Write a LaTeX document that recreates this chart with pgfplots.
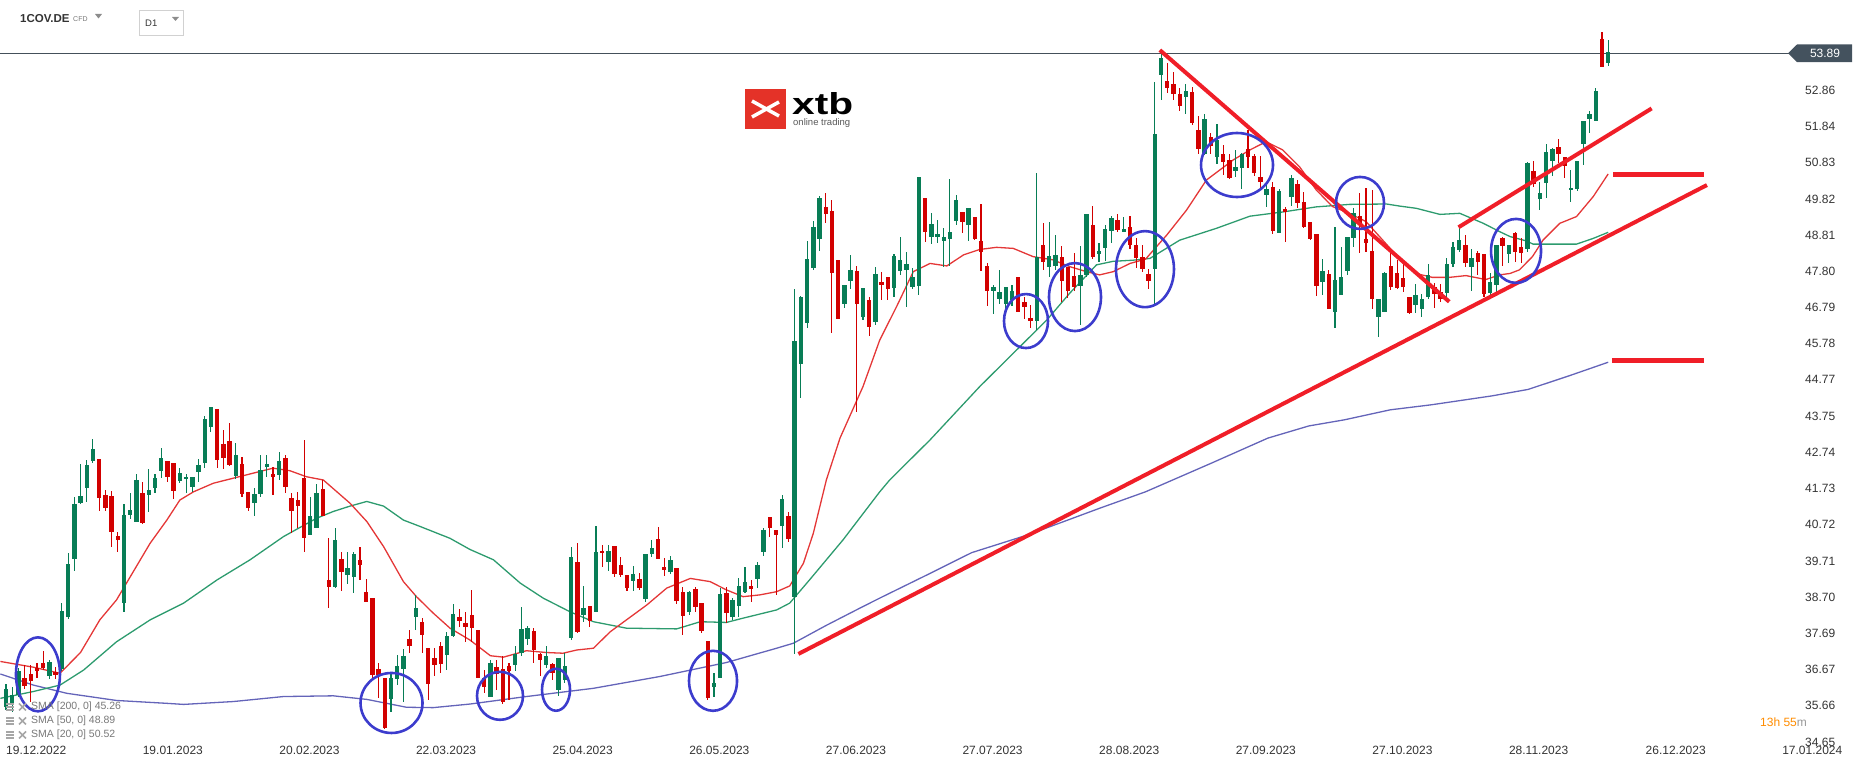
\documentclass[border=0pt]{standalone}
\usepackage{pgfplots}
\usepackage{pgfplotstable}
\pgfplotsset{compat=1.18}
\usepackage{fontspec}
\setmainfont{Liberation Sans}
\definecolor{cup}{RGB}{8,125,86}
\definecolor{cdn}{RGB}{210,0,0}
\definecolor{smaA}{RGB}{228,55,55}
\definecolor{smaB}{RGB}{45,155,110}
\definecolor{smaC}{RGB}{100,100,185}
\definecolor{trend}{RGB}{240,30,40}
\definecolor{circ}{RGB}{60,60,205}
\definecolor{pline}{RGB}{68,80,90}
\definecolor{tagc}{RGB}{68,82,94}
\definecolor{txt}{RGB}{51,51,51}
\definecolor{legc}{RGB}{120,120,120}
\definecolor{xtbred}{RGB}{228,50,40}

\pgfplotstableread{
i o h l c
0 35.64 36.27 35.55 36.12
1 35.68 36.20 35.50 35.96
2 35.96 36.71 35.92 36.64
3 36.43 36.80 36.12 36.22
4 36.55 36.80 35.78 36.36
5 36.71 36.85 36.43 36.64
6 36.85 37.19 36.66 36.73
7 36.50 36.94 36.41 36.88
8 36.60 36.74 36.41 36.52
9 36.68 38.54 36.62 38.31
10 38.15 39.92 38.08 39.62
11 39.76 41.49 39.44 41.30
12 41.34 42.42 41.30 41.52
13 41.74 42.53 41.36 42.39
14 42.51 43.11 42.44 42.83
15 42.55 42.55 41.11 41.46
16 41.55 41.69 41.09 41.20
17 41.52 41.66 40.11 40.53
18 40.41 40.53 39.97 40.28
19 38.54 41.30 38.29 40.99
20 40.99 41.60 40.87 41.13
21 40.81 42.13 40.81 41.97
22 41.60 41.90 40.74 40.76
23 41.55 42.27 41.08 41.69
24 41.74 42.14 41.60 42.02
25 42.23 42.85 42.02 42.58
26 42.51 42.51 41.92 42.06
27 42.44 42.44 41.43 41.67
28 41.95 42.30 41.88 42.16
29 42.00 42.14 41.60 42.06
30 41.78 42.04 41.64 42.04
31 42.18 42.55 41.90 42.39
32 42.45 43.76 42.30 43.66
33 43.46 44.00 43.32 44.00
34 43.94 43.94 42.30 42.53
35 42.98 43.37 42.27 42.58
36 43.07 43.55 42.36 42.39
37 42.08 42.99 41.99 42.67
38 42.42 42.60 41.50 41.58
39 41.64 41.64 41.11 41.18
40 41.32 41.74 40.96 41.57
41 41.58 42.67 41.49 42.25
42 42.32 42.67 42.06 42.42
43 42.13 42.32 41.55 42.06
44 42.11 42.76 41.97 42.51
45 42.58 42.67 41.60 41.78
46 41.46 41.60 40.48 41.09
47 41.41 41.64 40.62 41.24
48 42.02 43.09 39.97 40.34
49 40.43 41.50 40.43 40.95
50 40.64 41.86 40.62 41.62
51 41.72 41.97 40.95 40.97
52 39.18 40.34 38.39 38.97
53 38.97 40.62 38.94 40.30
54 39.75 39.97 38.88 39.41
55 39.32 39.97 39.07 39.50
56 39.27 39.97 38.82 39.90
57 39.74 40.11 39.18 39.60
58 38.85 39.20 38.57 38.57
59 38.66 38.66 36.38 36.52
60 36.68 36.85 35.87 36.52
61 36.45 36.45 35.00 35.03
62 35.84 36.57 35.50 36.45
63 36.40 37.08 36.24 36.77
64 36.68 37.24 35.78 37.05
65 37.53 37.78 37.15 37.33
66 38.13 38.76 37.78 38.40
67 37.99 38.11 37.13 37.64
68 37.27 37.27 35.81 36.27
69 36.99 37.27 36.48 36.80
70 37.34 37.45 36.57 36.83
71 37.08 37.73 36.66 37.61
72 37.61 38.51 37.59 38.22
73 38.13 38.36 37.87 38.04
74 37.97 38.29 37.45 37.87
75 38.20 38.90 37.45 37.83
76 37.78 37.78 36.43 36.43
77 36.43 36.66 36.01 36.20
78 35.92 36.94 35.92 36.85
79 36.74 36.94 36.11 36.55
80 36.68 37.04 35.71 35.78
81 36.78 36.85 35.83 36.62
82 36.80 37.34 36.62 37.11
83 37.13 38.43 37.04 37.81
84 37.52 37.90 37.36 37.83
85 37.75 37.83 36.87 37.22
86 37.10 37.15 36.50 36.94
87 36.80 37.34 36.71 37.04
88 36.82 36.87 36.38 36.57
89 36.11 36.99 35.94 36.99
90 36.39 37.13 36.29 36.78
91 37.55 40.11 37.50 39.81
92 39.67 40.22 37.69 37.73
93 38.20 39.01 38.01 38.39
94 38.45 38.45 37.86 38.04
95 38.29 40.69 38.29 39.97
96 39.99 40.15 39.53 39.92
97 39.69 40.15 39.44 39.99
98 40.13 40.13 39.27 39.35
99 39.60 39.81 39.27 39.32
100 39.32 39.32 38.88 38.95
101 39.16 39.57 38.88 39.34
102 39.20 39.36 38.90 38.95
103 38.64 39.90 38.57 39.90
104 39.90 40.30 39.81 40.06
105 40.31 40.65 39.76 39.76
106 39.53 39.78 39.29 39.46
107 39.41 39.85 39.34 39.74
108 39.50 39.50 38.51 38.60
109 38.83 38.97 37.64 38.17
110 38.29 38.88 38.20 38.83
111 38.92 38.97 38.29 38.43
112 38.53 38.53 37.69 37.76
113 37.46 37.46 35.81 35.87
114 36.18 36.57 35.92 36.31
115 36.43 38.94 36.43 38.79
116 38.82 38.97 37.97 38.26
117 38.14 38.66 38.06 38.62
118 38.45 39.22 38.15 39.01
119 38.85 39.53 38.81 39.13
120 39.01 39.18 38.55 38.92
121 39.20 39.69 38.95 39.60
122 39.97 40.62 39.85 40.56
123 40.93 40.93 40.37 40.62
124 40.58 40.58 38.76 40.43
125 40.69 41.55 40.06 41.43
126 40.95 41.07 40.25 40.32
127 38.71 47.31 37.11 45.84
128 45.21 47.11 44.25 47.09
129 46.35 48.66 46.21 48.15
130 47.88 49.21 47.84 49.05
131 48.70 49.90 48.38 49.86
132 49.61 50.00 49.14 49.40
133 49.49 49.79 46.09 47.76
134 48.12 48.12 46.47 46.47
135 46.89 47.42 46.77 47.42
136 47.54 48.26 47.30 47.84
137 47.81 47.95 43.88 46.89
138 46.51 47.33 46.44 47.33
139 47.00 47.09 45.98 46.25
140 46.39 47.91 46.30 47.72
141 47.51 47.79 47.00 47.42
142 47.65 47.65 47.00 47.31
143 47.33 48.28 47.09 48.23
144 47.81 48.75 47.70 48.12
145 47.84 48.35 46.81 48.01
146 47.37 47.88 47.30 47.65
147 47.39 50.43 47.14 50.43
148 49.84 49.84 48.63 48.91
149 48.77 49.44 48.56 49.12
150 48.77 49.23 48.58 48.84
151 48.66 49.00 47.91 48.75
152 48.70 50.37 47.95 48.91
153 49.21 49.93 49.09 49.79
154 49.45 49.45 48.88 49.19
155 49.08 49.58 48.66 49.58
156 49.31 49.31 48.68 48.70
157 48.65 49.68 47.82 48.35
158 47.95 48.04 46.83 47.26
159 47.26 47.42 46.61 47.37
160 47.02 47.84 46.89 47.21
161 46.89 47.37 46.74 47.35
162 47.00 47.42 46.82 47.25
163 47.63 47.63 46.65 46.67
164 46.93 47.09 46.46 46.79
165 46.49 46.86 46.21 46.42
166 46.42 50.54 46.16 48.21
167 48.54 49.14 47.84 48.07
168 47.93 49.19 47.65 48.23
169 47.95 48.82 47.84 48.26
170 48.19 48.51 46.93 47.54
171 47.91 47.91 47.05 47.26
172 47.67 48.30 47.26 47.35
173 47.39 48.51 46.30 47.70
174 47.70 49.40 47.65 49.40
175 49.09 49.62 48.14 48.21
176 48.28 48.60 48.07 48.38
177 48.44 49.09 48.10 48.98
178 48.93 49.35 48.60 49.30
179 49.23 49.40 48.91 48.95
180 48.91 49.33 48.91 48.98
181 49.03 49.35 48.42 48.54
182 48.54 48.72 47.88 48.16
183 48.19 48.54 47.79 47.86
184 47.73 47.86 47.30 47.54
185 47.86 53.10 46.90 51.63
186 53.28 53.93 52.58 53.75
187 53.11 53.61 52.79 52.93
188 53.02 53.38 52.60 52.75
189 52.74 52.91 52.29 52.43
190 52.68 53.02 52.19 52.84
191 52.82 52.96 51.89 51.95
192 51.76 52.14 51.09 51.23
193 51.09 52.19 51.05 52.05
194 51.54 51.67 51.09 51.30
195 51.00 51.91 50.80 51.47
196 51.07 51.33 50.49 50.86
197 50.91 51.09 50.37 50.42
198 50.61 51.19 50.44 50.72
199 50.70 51.11 50.09 51.09
200 51.21 51.76 50.70 51.00
201 51.02 51.09 50.46 50.55
202 50.44 51.02 50.14 50.30
203 49.93 50.21 49.61 50.09
204 50.16 50.30 48.84 48.93
205 48.88 50.09 48.86 50.05
206 49.53 49.61 48.63 49.46
207 49.88 50.49 49.62 50.40
208 50.24 50.35 49.56 49.72
209 49.74 50.02 49.00 49.05
210 49.19 49.19 48.67 48.69
211 48.84 48.84 47.11 47.39
212 47.51 48.14 47.14 47.81
213 47.72 47.84 46.74 46.76
214 46.67 49.03 46.21 47.57
215 47.14 48.47 47.14 47.65
216 47.82 48.75 47.70 48.75
217 48.72 49.56 48.49 49.42
218 49.35 50.00 48.32 49.14
219 48.69 50.12 48.35 48.60
220 48.37 50.07 46.76 47.04
221 46.51 47.04 45.97 47.04
222 46.67 47.79 46.67 47.76
223 47.95 48.39 47.28 47.37
224 47.76 48.11 47.30 47.32
225 47.62 48.07 47.23 47.37
226 47.09 47.09 46.60 46.63
227 46.86 47.44 46.63 47.14
228 46.74 47.16 46.53 47.02
229 47.07 48.00 47.04 47.70
230 47.35 47.48 46.77 47.18
231 47.23 47.44 46.95 47.04
232 47.20 48.16 46.95 48.00
233 48.00 48.63 47.93 48.49
234 48.39 49.09 48.35 48.67
235 48.53 48.81 47.93 48.04
236 47.93 48.42 47.26 48.16
237 48.30 48.37 47.70 48.07
238 48.28 48.28 47.09 47.17
239 47.18 47.74 47.14 47.51
240 47.42 48.53 47.18 48.53
241 48.72 48.77 47.95 48.51
242 48.28 48.53 48.04 48.53
243 48.88 48.91 48.07 48.35
244 48.49 48.72 48.04 48.32
245 48.41 50.86 48.35 50.83
246 50.61 50.89 50.16 50.24
247 49.81 50.30 49.51 50.00
248 50.26 51.36 49.84 51.14
249 50.89 51.25 50.46 51.22
250 51.26 51.50 50.82 51.08
251 51.00 51.00 50.40 50.75
252 50.07 50.63 49.75 50.12
253 50.09 50.88 50.05 50.88
254 51.37 52.00 50.77 52.00
255 52.07 52.29 51.67 52.19
256 52.01 52.91 52.01 52.84
257 54.29 54.48 53.52 53.52
258 53.63 54.26 53.54 53.92
}\candles

\begin{document}
\begin{tikzpicture}
\begin{axis}[
  at={(0pt,25pt)}, anchor=south west,
  scale only axis, width=1790pt, height=742pt,
  xmin=-0.966, xmax=287.28, ymin=34.65, ymax=55.38,
  axis line style={draw=none}, major tick length=0pt,
  xtick={0,22,44,66,88,110,132,154,176,198,220,242,264,286},
  xticklabels={19.12.2022,19.01.2023,20.02.2023,22.03.2023,25.04.2023,26.05.2023,27.06.2023,27.07.2023,28.08.2023,27.09.2023,27.10.2023,28.11.2023,26.12.2023,17.01.2024},
  xticklabel style={anchor=north west, inner sep=0pt, yshift=-4pt, font=\fontsize{12}{14}\selectfont, text=txt},
  ytick={34.65,35.66,36.67,37.69,38.70,39.71,40.72,41.73,42.74,43.75,44.77,45.78,46.79,47.80,48.81,49.82,50.83,51.84,52.86},
  yticklabels={34.65,35.66,36.67,37.69,38.70,39.71,40.72,41.73,42.74,43.75,44.77,45.78,46.79,47.80,48.81,49.82,50.83,51.84,52.86},
  ytick pos=right,
  yticklabel style={anchor=west, inner sep=0pt, xshift=15pt, font=\fontsize{12}{14}\selectfont, text=txt},
  clip=false,
  candle/.style={draw=none, no markers, forget plot,
    error bars/y dir=both, error bars/y explicit, error bars/error mark=none},
]
% price line
\addplot[pline, line width=1.3pt, forget plot] coordinates {(-0.966,53.89) (287.28,53.89)};
% SMA 200
\addplot[smaC, line width=1.3pt] coordinates {
(-0.9,36.55) (4.4,36.24) (9.8,36.01) (17.8,35.81) (25.9,35.73) (28.6,35.70) (36.6,35.78) (44.7,35.92) (52.7,35.94) (58.1,35.84) (64.5,35.62) (68.8,35.61) (74.7,35.71) (83.8,35.92) (94.6,36.15) (105.3,36.48) (116.0,36.87) (124.1,37.27) (126.8,37.41) (132.0,37.90) (137.5,38.39) (140.7,38.67) (148.8,39.36) (155.5,39.94) (164.6,40.44) (176.1,41.18) (183.5,41.64) (194.1,42.44) (203.2,43.14) (209.8,43.48) (215.5,43.65) (222.9,43.93) (229.5,44.07) (239.3,44.32) (245.1,44.50) (251.7,44.88) (258,45.26)};
% SMA 50
\addplot[smaB, line width=1.3pt] coordinates {
(-0.9,35.87) (4.4,36.06) (8.7,36.24) (12.5,36.66) (17.8,37.45) (23.2,38.06) (28.6,38.53) (34.0,39.18) (39.3,39.74) (44.7,40.39) (50.0,40.90) (52.7,41.09) (55.4,41.24) (58.1,41.37) (60.8,41.24) (64.0,40.85) (66.7,40.67) (71.5,40.34) (74.7,40.03) (78.5,39.74) (82.8,39.09) (86.5,38.67) (90.8,38.29) (94.6,38.01) (99.9,37.83) (108.0,37.81) (111.8,38.01) (116.0,37.99) (118.7,38.11) (124.1,38.34) (126.2,38.53) (129.4,39.18) (134.8,40.30) (140.7,41.64) (142.3,41.97) (148.8,43.09) (156.8,44.58) (162.2,45.51) (167.6,46.44) (171.3,47.19) (175.6,47.98) (178.3,48.08) (181.5,48.11) (184.2,48.16) (189.0,48.67) (194.9,49.00) (200.3,49.34) (205.7,49.46) (211.0,49.60) (216.4,49.67) (222.3,49.68) (224.5,49.62) (227.1,49.56) (230.9,49.39) (234.1,49.42) (237.9,49.14) (240.5,48.91) (242.2,48.77) (244.8,48.65) (245.9,48.56) (252.9,48.56) (255.6,48.72) (258,48.89)};
% SMA 20
\addplot[smaA, line width=1.3pt] coordinates {
(-0.9,36.90) (4.4,36.74) (8.7,36.57) (12.0,37.15) (15.1,38.06) (17.8,38.62) (20.5,39.41) (23.2,40.20) (25.9,40.85) (28.0,41.41) (30.2,41.64) (33.4,41.88) (36.6,42.02) (39.8,42.16) (43.0,42.30) (45.7,42.23) (48.4,42.06) (51.1,41.97) (55.4,41.32) (58.1,40.81) (60.8,40.11) (64.0,39.13) (66.1,38.71) (68.8,38.25) (71.5,37.83) (74.7,37.50) (78.0,37.06) (80.1,37.02) (83.8,37.20) (87.0,37.15) (89.7,37.13) (91.9,37.22) (94.6,37.27) (97.3,37.73) (99.9,38.06) (103.2,38.48) (106.4,38.95) (110.2,39.22) (113.4,39.13) (116.0,38.90) (118.7,38.71) (121.4,38.76) (124.1,38.85) (126.2,39.01) (128.4,39.64) (130.0,40.48) (132.1,41.97) (134.3,43.14) (138.0,44.58) (140.7,45.88) (143.4,46.81) (146.1,47.79) (148.8,48.02) (151.5,47.95) (154.2,48.26) (156.8,48.41) (159.5,48.47) (162.2,48.44) (165.4,48.21) (168.6,48.12) (171.3,47.93) (174.0,47.79) (176.1,47.70) (178.3,47.79) (181.0,48.02) (183.5,48.14) (186.9,48.81) (190.1,49.51) (193.3,50.35) (197.6,50.91) (200.3,51.19) (202.9,51.42) (205.6,51.19) (208.3,50.72) (211.0,50.07) (213.6,49.61) (216.3,49.42) (219.0,49.19) (221.7,48.67) (224.4,48.15) (227.0,47.74) (229.7,47.63) (232.4,47.63) (235.1,47.68) (238.3,47.57) (240.5,47.70) (242.2,47.74) (243.7,47.84) (245.8,48.21) (247.5,48.67) (250.2,49.14) (252.9,49.33) (255.6,49.89) (258,50.52)};
% candles: wicks and bodies
\addplot[candle, restrict expr to domain={\thisrow{c}-\thisrow{o}}{0:100},
  error bars/error bar style={draw=cup, line width=1.1pt}]
  table[x=i, y expr={(\thisrow{h}+\thisrow{l})/2}, y error expr={(\thisrow{h}-\thisrow{l})/2}] {\candles};
\addplot[candle, restrict expr to domain={\thisrow{c}-\thisrow{o}}{0:100},
  error bars/error bar style={draw=cup, line width=4.4pt}]
  table[x=i, y expr={(\thisrow{o}+\thisrow{c})/2}, y error expr={abs(\thisrow{c}-\thisrow{o})/2}] {\candles};
\addplot[candle, restrict expr to domain={\thisrow{c}-\thisrow{o}}{-100:-0.0001},
  error bars/error bar style={draw=cdn, line width=1.1pt}]
  table[x=i, y expr={(\thisrow{h}+\thisrow{l})/2}, y error expr={(\thisrow{h}-\thisrow{l})/2}] {\candles};
\addplot[candle, restrict expr to domain={\thisrow{c}-\thisrow{o}}{-100:-0.0001},
  error bars/error bar style={draw=cdn, line width=4.4pt}]
  table[x=i, y expr={(\thisrow{o}+\thisrow{c})/2}, y error expr={abs(\thisrow{c}-\thisrow{o})/2}] {\candles};
% trend lines
\addplot[trend, line width=4pt] coordinates {(127.6,37.11) (273.9,50.21)};
\addplot[trend, line width=4pt] coordinates {(185.8,53.98) (232.4,46.95)};
\addplot[trend, line width=4pt] coordinates {(233.9,49.03) (265.0,52.35)};
\addplot[trend, line width=4.5pt] coordinates {(258.8,50.51) (273.4,50.51)};
\addplot[trend, line width=4.5pt] coordinates {(258.6,45.31) (273.4,45.31)};
% circles
\draw[circ, line width=2.6pt] (axis cs:5.15,36.54) ellipse [x radius=22pt, y radius=37pt];
\draw[circ, line width=2.6pt] (axis cs:62.08,35.74) ellipse [x radius=31pt, y radius=30pt];
\draw[circ, line width=2.6pt] (axis cs:79.55,35.94) ellipse [x radius=23pt, y radius=24pt];
\draw[circ, line width=2.6pt] (axis cs:88.57,36.11) ellipse [x radius=14pt, y radius=21pt];
\draw[circ, line width=2.6pt] (axis cs:113.85,36.36) ellipse [x radius=24pt, y radius=30pt];
\draw[circ, line width=2.6pt] (axis cs:164.25,46.41) ellipse [x radius=22pt, y radius=27pt];
\draw[circ, line width=2.6pt] (axis cs:172.14,47.08) ellipse [x radius=26pt, y radius=34pt];
\draw[circ, line width=2.6pt] (axis cs:183.41,47.86) ellipse [x radius=29pt, y radius=38pt];
\draw[circ, line width=2.6pt] (axis cs:198.23,50.77) ellipse [x radius=36pt, y radius=32pt];
\draw[circ, line width=2.6pt] (axis cs:218.04,49.71) ellipse [x radius=24pt, y radius=26pt];
\draw[circ, line width=2.6pt] (axis cs:243.16,48.37) ellipse [x radius=25pt, y radius=32pt];
\end{axis}
% price tag
\fill[tagc] (1788pt,713.7pt) -- (1797pt,722.5pt) -- (1852pt,722.5pt) -- (1852pt,704.9pt) -- (1797pt,704.9pt) -- cycle;
\node[text=white, font=\fontsize{12}{14}\selectfont, inner sep=0pt] at (1825pt,713.7pt) {53.89};
% header
\node[anchor=west, inner sep=0pt, text=txt, font=\fontsize{11.5}{14}\selectfont\bfseries] at (20pt,748pt) {1COV.DE};
\node[anchor=west, inner sep=0pt, text=legc, font=\fontsize{7}{8}\selectfont] at (73pt,748pt) {CFD};
\fill[black!45] (95pt,753pt) -- (102pt,753pt) -- (98.5pt,748.5pt) -- cycle;
\draw[black!18, line width=0.8pt] (139pt,732pt) rectangle (183pt,757pt);
\node[anchor=west, inner sep=0pt, text=txt, font=\fontsize{9.5}{11}\selectfont] at (145pt,743.5pt) {D1};
\fill[black!45] (172pt,750pt) -- (179pt,750pt) -- (175.5pt,746pt) -- cycle;
% xtb logo
\fill[xtbred] (745pt,638pt) rectangle (786pt,678pt);
\draw[white, line width=3.5pt] (752pt,666pt) -- (779pt,651pt);
\draw[white, line width=3.5pt] (752pt,650pt) -- (779pt,665pt);
\node[anchor=west, inner sep=0pt] at (792pt,663pt) {\resizebox{61pt}{22pt}{\bfseries xtb}};
\node[anchor=west, inner sep=0pt, text=black!65, font=\fontsize{9.5}{11}\selectfont] at (793pt,644pt) {online trading};
% legend
\foreach \yy/\tt in {60/{SMA [200, 0] 45.26}, 46/{SMA [50, 0] 48.89}, 32/{SMA [20, 0] 50.52}} {
  \draw[black!35, line width=1.2pt] (6pt,\yy pt+3pt) -- (14pt,\yy pt+3pt) (6pt,\yy pt) -- (14pt,\yy pt) (6pt,\yy pt-3pt) -- (14pt,\yy pt-3pt);
  \draw[black!35, line width=1.6pt] (19pt,\yy pt-3.5pt) -- (26pt,\yy pt+3.5pt) (19pt,\yy pt+3.5pt) -- (26pt,\yy pt-3.5pt);
  \node[anchor=west, inner sep=0pt, text=legc, font=\fontsize{10.5}{12}\selectfont] at (31pt,\yy pt) {\tt};
}
% timer
\node[anchor=west, inner sep=0pt, font=\fontsize{12}{14}\selectfont] at (1760pt,45pt) {\textcolor{orange!90!yellow}{13h} \textcolor{orange!90!yellow}{55}\textcolor{black!40}{m}};
\pgfresetboundingbox
\useasboundingbox (0pt,0pt) rectangle (1866pt,767pt);
\end{tikzpicture}
\end{document}
